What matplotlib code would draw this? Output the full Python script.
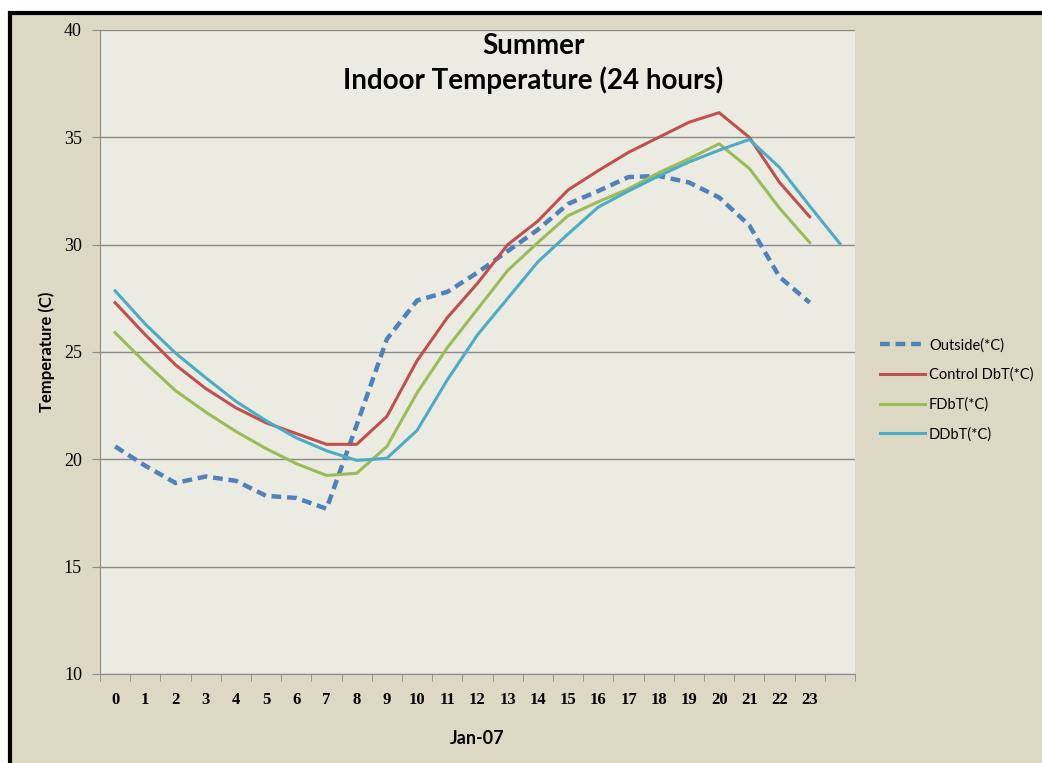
import matplotlib.pyplot as plt
from matplotlib.patches import Rectangle

# Datos (hora 0..23, DDbT llega hasta 24)
hours = list(range(25))
hour_labels = [str(h) for h in range(24)] + ['']

outside = [20.6, 19.7, 18.9, 19.2, 19.0, 18.3, 18.2, 17.7, 21.6, 25.6,
           27.4, 27.8, 28.7, 29.7, 30.7, 31.9, 32.5, 33.15, 33.2, 32.9,
           32.2, 30.9, 28.5, 27.3]
control = [27.3, 25.8, 24.4, 23.3, 22.4, 21.7, 21.2, 20.7, 20.7, 22.0,
           24.6, 26.6, 28.2, 30.0, 31.1, 32.55, 33.45, 34.3, 35.0, 35.7,
           36.15, 35.0, 32.9, 31.3]
fdbt = [25.9, 24.5, 23.2, 22.2, 21.3, 20.5, 19.8, 19.25, 19.35, 20.6,
        23.1, 25.2, 27.0, 28.8, 30.1, 31.35, 32.0, 32.6, 33.35, 34.0,
        34.7, 33.55, 31.7, 30.1]
ddbt = [27.85, 26.3, 24.95, 23.8, 22.7, 21.8, 21.0, 20.4, 19.95, 20.05,
        21.35, 23.7, 25.8, 27.5, 29.2, 30.5, 31.75, 32.5, 33.2, 33.85,
        34.4, 34.9, 33.6, 31.8, 30.05]

fig = plt.figure(figsize=(10.42, 7.63), dpi=100)
fig.patch.set_facecolor('white')

# fondo beige y marco negro (cortado a la derecha y abajo)
fig.patches.append(Rectangle((10 / 1042, -0.1), 1.2, 1 - 13 / 763 + 0.1,
                             transform=fig.transFigure, facecolor='#ddd8c3',
                             edgecolor='black', linewidth=3, zorder=-10))

ax = fig.add_axes([100 / 1042, 1 - 674 / 763, 755 / 1042, 644 / 763])
ax.set_facecolor('#ecebe1')

ax.plot(hours[:24], outside, color='#4f81bd', lw=3.2, ls=(0, (2.2, 1.3)),
        label='Outside(*C)', solid_capstyle='butt')
ax.plot(hours[:24], control, color='#c0504d', lw=2.2, label='Control DbT(*C)')
ax.plot(hours[:24], fdbt, color='#9bbb59', lw=2.2, label='FDbT(*C)')
ax.plot(hours, ddbt, color='#4bacc6', lw=2.2, label='DDbT(*C)')

ax.set_xlim(-0.5, 24.5)
ax.set_ylim(10, 40)
ax.set_yticks(range(10, 41, 5))
ax.grid(axis='y', color='#8a8a8a', lw=1)
ax.set_axisbelow(True)

ax.set_xticks(hours)
ax.set_xticklabels(hour_labels, fontfamily='Liberation Serif',
                   fontweight='bold', fontsize=12)
ax.set_xticks([h - 0.5 for h in hours] + [24.5], minor=True)
ax.tick_params(axis='x', which='major', length=0, pad=13)
ax.tick_params(axis='x', which='minor', length=5, color='#8a8a8a')
ax.tick_params(axis='y', length=6, color='#8a8a8a', pad=7)
for lab in ax.get_yticklabels():
    lab.set_fontfamily('Liberation Serif')
    lab.set_fontsize(13)

for s in ['top', 'right']:
    ax.spines[s].set_visible(False)
for s in ['left', 'bottom']:
    ax.spines[s].set_color('#8a8a8a')

ax.set_xlabel('Jan-07', fontfamily='Lato', fontweight='bold', fontsize=13,
              labelpad=16)
ax.set_ylabel('Temperature (C)', fontfamily='Lato', fontweight='bold',
              fontsize=12, labelpad=6)

ax.text(0.574, 0.995, 'Summer\nIndoor Temperature (24 hours)',
        transform=ax.transAxes, ha='center', va='top', fontfamily='Lato',
        fontweight='bold', fontsize=20, linespacing=1.3)

leg = fig.legend(loc='upper left', bbox_to_anchor=(867 / 1042, 1 - 325 / 763),
                 frameon=False, prop={'family': 'Lato', 'size': 10.5},
                 handlelength=3.1, handletextpad=0.25, labelspacing=1.05)

plt.savefig('out.png', dpi=100)
